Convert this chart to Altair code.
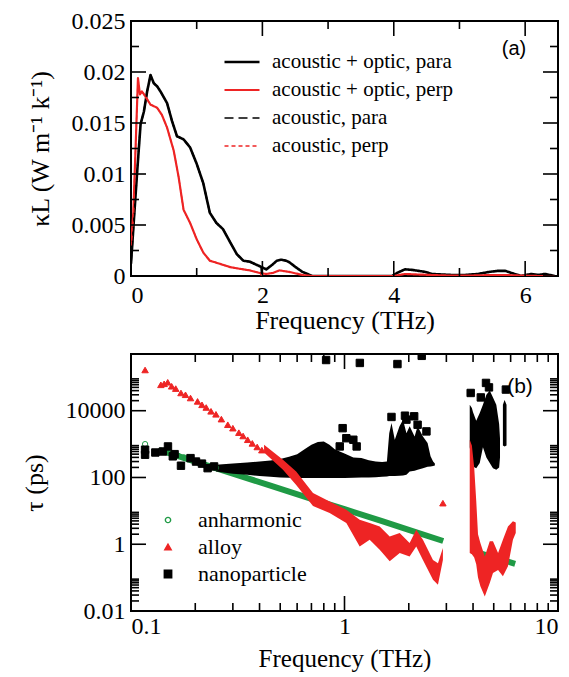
import math
import altair as alt
import pandas as pd

FONT = "Liberation Serif, Times New Roman, serif"
SANS = "Liberation Sans, Arial, sans-serif"
RED = "#ee2424"
GREEN = "#1f9a45"

# ---------------- panel (a) data ----------------
SER_A = ["acoustic + optic, para", "acoustic + optic, perp", "acoustic, para", "acoustic, perp"]

para_f = [0, 0.045, 0.095, 0.146, 0.196, 0.246, 0.297, 0.347, 0.397, 0.448, 0.549, 0.624, 0.70, 0.80,
          0.90, 1.0, 1.10, 1.20, 1.30, 1.40, 1.51, 1.61, 1.71, 1.81, 1.91, 1.98, 2.06, 2.15, 2.22, 2.29,
          2.36, 2.41, 2.5, 2.61, 2.76, 3.0, 3.5, 3.97, 4.05, 4.17, 4.28, 4.38, 4.48, 4.58, 4.88, 5.08,
          5.28, 5.45, 5.58, 5.7, 5.79, 5.94, 6.09, 6.2, 6.3, 6.45]
para_k = [0.0012, 0.0056, 0.0103, 0.0149, 0.0161, 0.0181, 0.0197, 0.0189, 0.0186, 0.0181, 0.01695,
          0.0152, 0.0137, 0.0134, 0.0126, 0.011, 0.0091, 0.0062, 0.0052, 0.0046, 0.0033, 0.00215,
          0.0015, 0.0014, 0.0011, 0.0009, 0.00065, 0.0011, 0.0015, 0.0016, 0.0015, 0.00135, 0.0009,
          0.0004, 0.0, 0.0, 0.0, 0.0, 0.0003, 0.00065, 0.0006, 0.0005, 0.0004, 0.0002, 0.0001, 0.0001,
          0.0002, 0.0004, 0.0005, 0.0005, 0.0003, 0.0, 0.0002, 0.0001, 0.0002, 0.0]

perp_f = [0, 0.035, 0.07, 0.106, 0.136, 0.166, 0.22, 0.297, 0.397, 0.47, 0.549, 0.65, 0.725, 0.80,
          0.90, 1.0, 1.10, 1.20, 1.35, 1.51, 1.66, 1.81, 1.96, 2.06, 2.16, 2.26, 2.41, 2.61, 2.75, 3.0,
          3.5, 4.0, 4.17, 4.35, 4.58, 4.8, 5.2, 5.5, 5.7, 5.9, 6.2, 6.45]
perp_k = [0.003, 0.0062, 0.0126, 0.0194, 0.0178, 0.0181, 0.0176, 0.0168, 0.0165, 0.0158, 0.01455,
          0.0123, 0.0097, 0.0065, 0.0052, 0.0036, 0.0023, 0.0015, 0.0012, 0.00087, 0.0007, 0.00055,
          0.0003, 0.0002, 0.0003, 0.00055, 0.0004, 0.0001, 0.0, 0.0, 0.0, 0.0, 0.0002, 0.00015,
          0.0001, 0.00005, 0.00005, 0.0001, 0.0001, 0.00005, 0.0, 0.0]

ac_para_f = [0, 0.045, 0.095, 0.146, 0.196, 0.246, 0.297, 0.347, 0.397, 0.448, 0.549, 0.624, 0.70,
             0.80, 0.90, 1.0, 1.10, 1.20, 1.30, 1.40, 1.51, 1.61, 1.71, 1.81, 1.91, 1.98, 1.99]
ac_para_k = [0.0012, 0.0056, 0.0103, 0.0149, 0.0161, 0.0181, 0.0197, 0.0189, 0.0186, 0.0181, 0.01695,
             0.0152, 0.0137, 0.0134, 0.0126, 0.011, 0.0091, 0.0062, 0.0052, 0.0046, 0.0033, 0.00215,
             0.0015, 0.0014, 0.0011, 0.0009, 0.0]

ac_perp_f = [0, 0.035, 0.07, 0.106, 0.136, 0.166, 0.22, 0.297, 0.397, 0.47, 0.549, 0.65, 0.725, 0.80,
             0.90, 1.0, 1.10, 1.20, 1.35, 1.51, 1.66, 1.81, 1.96, 1.99]
ac_perp_k = [0.003, 0.0062, 0.0126, 0.0194, 0.0178, 0.0181, 0.0176, 0.0168, 0.0165, 0.0158, 0.01455,
             0.0123, 0.0097, 0.0065, 0.0052, 0.0036, 0.0023, 0.0015, 0.0012, 0.00087, 0.0007, 0.00055,
             0.0003, 0.0]

# ---------------- panel (b) data ----------------
SER_B = ["anharmonic", "alloy", "nanoparticle"]

anh_f1 = [0.141, 0.2, 0.3, 0.45, 0.7, 1.0, 1.5, 2.0, 2.9]
anh_t1 = [620, 300, 131, 57, 23, 11.2, 4.9, 2.7, 1.25]
anh_f2 = [3.95, 6.3]
anh_t2 = [0.63, 0.26]
anh_pts_f = [0.1164, 0.138, 0.147, 0.156, 0.166, 0.177, 0.19, 0.205, 0.22, 0.235, 0.25]
anh_pts_t = [1000, 640, 590, 520, 450, 400, 350, 290, 250, 220, 195]

alloy_pts_f = [0.1164, 0.138, 0.143, 0.1486, 0.155, 0.162, 0.1714, 0.18, 0.19, 0.205, 0.215, 0.225,
               0.237, 0.25, 0.265, 0.284, 0.30, 0.32, 0.335, 0.352, 0.37, 0.39, 0.41, 2.89]
alloy_pts_t = [1.66e5, 5.96e4, 6.4e4, 7.1e4, 5.4e4, 4.6e4, 3.4e4, 3.0e4, 2.4e4, 1.9e4, 1.5e4, 1.25e4,
               9.6e3, 7.8e3, 5.6e3, 3.8e3, 3.0e3, 2.2e3, 1.75e3, 1.35e3, 1.05e3, 820, 660, 17]
alloy_b1_f = [0.42, 0.515, 0.594, 0.712, 0.852, 1.02, 1.178, 1.312, 1.462, 1.628, 1.814, 2.018, 2.168,
              2.33, 2.597, 2.74, 2.89]
alloy_b1_lo = [560, 170, 60, 14, 8.6, 4.3, 0.86, 1.36, 0.68, 0.31, 0.55, 0.43, 0.86, 0.34, 0.086,
               0.061, 0.34]
alloy_b1_hi = [950, 340, 150, 34, 19.2, 10.8, 5.4, 4.3, 3.4, 1.72, 2.16, 1.09, 2.72, 1.36, 0.34, 0.27,
               0.77]
alloy_b2_f = [3.86, 3.95, 4.05, 4.14, 4.22, 4.33, 4.54, 4.79, 4.96, 5.24, 5.52, 5.83, 6.15, 6.34]
alloy_b2_lo = [0.55, 0.5, 0.4, 0.25, 0.1, 0.055, 0.027, 0.069, 0.138, 0.17, 0.11, 0.22, 1.36, 2.16]
alloy_b2_hi = [1350, 900, 200, 20, 2.0, 1.09, 0.43, 1.22, 1.22, 0.55, 1.36, 3.4, 4.9, 4.5]

nano_pts_f = [0.1164, 0.1164, 0.13, 0.141, 0.149, 0.157, 0.16, 0.1714, 0.19, 0.2016, 0.215, 0.2285,
              0.245, 0.82, 1.18, 1.77, 2.3, 0.95, 0.98, 1.02, 1.1, 1.14, 1.66, 1.92, 1.95, 2.12, 2.2,
              2.42, 3.9, 4.35, 4.6, 4.75, 5.7]
nano_pts_t = [680, 480, 560, 600, 850, 430, 500, 225, 380, 300, 260, 190, 214, 3.3e5, 2.7e5, 2.5e5,
              4.4e5, 850, 3000, 1500, 1350, 850, 6500, 7100, 5400, 6800, 3800, 2400, 3.4e4, 2.5e4,
              6.8e4, 5e4, 4.3e4]
nano_c1_f = [0.25, 0.3, 0.35, 0.4, 0.45, 0.5, 0.55, 0.6, 0.65, 0.7, 0.75, 0.8, 0.85, 0.9, 0.95, 1.0,
             1.1, 1.2, 1.3, 1.4, 1.5, 1.58, 1.62, 1.66, 1.72, 1.81, 1.88, 1.95, 2.02, 2.13, 2.2, 2.33,
             2.45, 2.53, 2.6, 2.65]
nano_c1_lo = [150, 130, 120, 110, 105, 100, 98, 96, 96, 96, 96, 96, 96, 96, 96, 97, 98, 100, 100, 102,
              105, 107, 110, 110, 110, 112, 115, 120, 150, 160, 170, 190, 210, 215, 220, 230]
nano_c1_hi = [240, 260, 280, 300, 320, 360, 420, 500, 700, 950, 1150, 1200, 950, 700, 600, 520, 400,
              380, 330, 300, 290, 300, 2100, 4300, 1350, 3400, 5400, 2100, 3400, 1700, 3400, 1700,
              1070, 430, 300, 260]
nano_c2_f = [3.86, 3.95, 4.0, 4.14, 4.3, 4.45, 4.62, 4.79, 4.96, 5.14, 5.3, 5.35]
nano_c2_lo = [800, 300, 215, 190, 270, 800, 400, 270, 190, 170, 200, 400]
nano_c2_hi = [1.5e4, 1.2e4, 9000, 5000, 8600, 1.5e4, 3e4, 4e4, 2.5e4, 1.5e4, 4000, 1500]
nano_c3_f = [5.52, 5.62, 5.74]
nano_c3_lo = [900, 850, 900]
nano_c3_hi = [1.5e4, 2.1e4, 1.5e4]

# tick values
A_X_MAJ = [0, 2, 4, 6]
A_X_MIN = [1, 3, 5]
A_Y_MAJ = [0, 0.005, 0.01, 0.015, 0.02, 0.025]
A_Y_MIN = [0.0025, 0.0075, 0.0125, 0.0175, 0.0225]
B_X_MAJ = [0.1, 1, 10]
B_X_MIN = [0.2, 0.3, 0.4, 0.5, 0.6, 0.7, 0.8, 0.9, 2, 3, 4, 5, 6, 7, 8, 9]
B_Y_MAJ = [0.01, 1, 100, 10000]
B_Y_MIN = [0.02, 0.03, 0.04, 0.05, 0.06, 0.07, 0.08, 0.09, 2, 3, 4, 5, 6, 7, 8, 9,
           200, 300, 400, 500, 600, 700, 800, 900, 2e4, 3e4, 4e4, 5e4, 6e4, 7e4, 8e4, 9e4]

# axis domains
A_XDOM, A_YDOM = [0, 6.5], [0, 0.025]
B_XDOM, B_YDOM = [0.1, 10], [0.01, 5e5]

# ---------------- build tables ----------------
rows = []
for name, fs, ks in [(SER_A[0], para_f, para_k), (SER_A[1], perp_f, perp_k),
                     (SER_A[2], ac_para_f, ac_para_k), (SER_A[3], ac_perp_f, ac_perp_k)]:
    rows += [{"series": name, "f": f, "k": k} for f, k in zip(fs, ks)]
df_a = pd.DataFrame(rows)

df_g = pd.DataFrame(
    [{"seg": "g1", "f": f, "t": t} for f, t in zip(anh_f1, anh_t1)] +
    [{"seg": "g2", "f": f, "t": t} for f, t in zip(anh_f2, anh_t2)])


def band(seg, fs, lo, hi):
    return [{"seg": seg, "f": f, "lo": a, "hi": b} for f, a, b in zip(fs, lo, hi)]


df_red = pd.DataFrame(band("r1", alloy_b1_f, alloy_b1_lo, alloy_b1_hi) +
                      band("r2", alloy_b2_f, alloy_b2_lo, alloy_b2_hi))
df_blk = pd.DataFrame(band("k1", nano_c1_f, nano_c1_lo, nano_c1_hi) +
                      band("k2", nano_c2_f, nano_c2_lo, nano_c2_hi) +
                      band("k3", nano_c3_f, nano_c3_lo, nano_c3_hi))
df_pts = pd.DataFrame(
    [{"series": "anharmonic", "f": f, "t": t} for f, t in zip(anh_pts_f, anh_pts_t)] +
    [{"series": "nanoparticle", "f": f, "t": t} for f, t in zip(nano_pts_f, nano_pts_t)] +
    [{"series": "alloy", "f": f, "t": t} for f, t in zip(alloy_pts_f, alloy_pts_t)])

W = 427
HA, HB = 255, 257
MAJ, MIN = 15, 8


def lab_axis(orient, values, title, pad, tpad, tsize=26):
    return alt.Axis(orient=orient, values=values, ticks=False, domain=False, grid=False,
                    labelFont=FONT, titleFont=FONT, labelFontSize=24, titleFontSize=tsize,
                    titleFontWeight="normal", labelColor="black", titleColor="black",
                    labelPadding=pad, titlePadding=tpad, title=title, format="~g")


def inset(dom, length, span, log, from_end):
    """Value lying `length` pixels inside the domain edge (for tick lengths)."""
    lo, hi = dom
    if log:
        k = 10 ** (length * math.log10(hi / lo) / span)
        return (hi, hi / k) if from_end else (lo, lo * k)
    d = (hi - lo) * length / span
    return (hi, hi - d) if from_end else (lo, lo + d)


def ticks(values, side, length, xs, ys, xdom, ydom, xlog, ylog, h):
    """Inward frame tick marks, placed through the chart's own scales."""
    df = pd.DataFrame({"v": values})
    base = alt.Chart(df).mark_rule(color="black", strokeWidth=1.6)
    if side in ("bottom", "top"):
        a, b = inset(ydom, length, h, ylog, side == "top")
        return base.encode(x=alt.X("v:Q", scale=xs), y=alt.datum(a), y2=alt.datum(b))
    a, b = inset(xdom, length, W, xlog, side == "right")
    return base.encode(y=alt.Y("v:Q", scale=ys), x=alt.datum(a), x2=alt.datum(b))


def frame_ticks(xs, ys, xdom, ydom, xlog, ylog, xmaj, xmin, ymaj, ymin, h):
    out = []
    for side in ("bottom", "top"):
        out += [ticks(xmaj, side, MAJ, xs, ys, xdom, ydom, xlog, ylog, h),
                ticks(xmin, side, MIN, xs, ys, xdom, ydom, xlog, ylog, h)]
    for side in ("left", "right"):
        out += [ticks(ymaj, side, MAJ, xs, ys, xdom, ydom, xlog, ylog, h),
                ticks(ymin, side, MIN, xs, ys, xdom, ydom, xlog, ylog, h)]
    return out


# ---------------- panel (a) ----------------
xs_a = alt.Scale(domain=A_XDOM, nice=False, zero=False)
ys_a = alt.Scale(domain=A_YDOM, nice=False)
leg_a = alt.Legend(title=None, orient="none", legendX=92, legendY=28, symbolType="stroke",
                   symbolSize=1225, clipHeight=26, rowPadding=2, labelFont=FONT, labelFontSize=21,
                   labelOffset=11, labelColor="black", labelLimit=400)

lines_a = alt.Chart(df_a).mark_line(clip=True, strokeJoin="round").encode(
    x=alt.X("f:Q", scale=xs_a, axis=lab_axis("bottom", A_X_MAJ, "Frequency (THz)", 7, 0)),
    y=alt.Y("k:Q", scale=ys_a, axis=lab_axis("left", A_Y_MAJ, "κL (W m⁻¹ k⁻¹)", 6, 18)),
    color=alt.Color("series:N", scale=alt.Scale(domain=SER_A, range=["black", RED, "black", RED]),
                    legend=leg_a),
    strokeDash=alt.StrokeDash("series:N", scale=alt.Scale(domain=SER_A,
                              range=[[1, 0], [1, 0], [9, 5], [4, 3]]), legend=leg_a),
    strokeWidth=alt.StrokeWidth("series:N", scale=alt.Scale(domain=SER_A, range=[2.6, 1.3, 2.6, 1.3]),
                                legend=leg_a),
)

lab_a = alt.Chart(pd.DataFrame({"txt": ["(a)"]})).mark_text(
    font=SANS, fontSize=20, color="black", align="center", baseline="middle").encode(
    x=alt.value(383), y=alt.value(28), text="txt:N")

panel_a = alt.layer(
    lines_a,
    *frame_ticks(xs_a, ys_a, A_XDOM, A_YDOM, False, False, A_X_MAJ, A_X_MIN, A_Y_MAJ, A_Y_MIN, HA),
    lab_a
).properties(width=W, height=HA)

# ---------------- panel (b) ----------------
xs_b = alt.Scale(type="log", domain=B_XDOM, nice=False)
ys_b = alt.Scale(type="log", domain=B_YDOM, nice=False)

green_line = alt.Chart(df_g).mark_line(color=GREEN, strokeWidth=6, clip=True).encode(
    x=alt.X("f:Q", scale=xs_b, axis=lab_axis("bottom", B_X_MAJ, "Frequency (THz)", 3, 8, 25)),
    y=alt.Y("t:Q", scale=ys_b, axis=lab_axis("left", B_Y_MAJ, "τ (ps)", 6, 18)),
    detail="seg:N")

blk_area = alt.Chart(df_blk).mark_area(color="black", clip=True).encode(
    x=alt.X("f:Q", scale=xs_b),
    y=alt.Y("lo:Q", scale=ys_b), y2="hi:Q", detail="seg:N")
red_area = alt.Chart(df_red).mark_area(color=RED, clip=True).encode(
    x=alt.X("f:Q", scale=xs_b),
    y=alt.Y("lo:Q", scale=ys_b), y2="hi:Q", detail="seg:N")

leg_b = alt.Legend(title=None, orient="none", legendX=26, legendY=155, labelFont=FONT,
                   labelFontSize=22, labelOffset=19, rowPadding=5, labelColor="black",
                   symbolStrokeWidth=1.4, labelLimit=400)
pts = alt.Chart(df_pts).mark_point(strokeWidth=1.0, opacity=1, clip=True).encode(
    x=alt.X("f:Q", scale=xs_b),
    y=alt.Y("t:Q", scale=ys_b),
    shape=alt.Shape("series:N", scale=alt.Scale(domain=SER_B,
                    range=["circle", "triangle-up", "square"]), legend=leg_b),
    fill=alt.Fill("series:N", scale=alt.Scale(domain=SER_B,
                  range=["transparent", RED, "black"]), legend=leg_b),
    stroke=alt.Stroke("series:N", scale=alt.Scale(domain=SER_B,
                      range=[GREEN, RED, "black"]), legend=leg_b),
    size=alt.Size("series:N", scale=alt.Scale(domain=SER_B, range=[28, 55, 6]), legend=leg_b),
)

lab_b = alt.Chart(pd.DataFrame({"txt": ["(b)"]})).mark_text(
    font=SANS, fontSize=21, color="black", align="center", baseline="middle").encode(
    x=alt.value(389), y=alt.value(33), text="txt:N")

panel_b = alt.layer(
    green_line, blk_area, red_area, pts,
    *frame_ticks(xs_b, ys_b, B_XDOM, B_YDOM, True, True, B_X_MAJ, B_X_MIN, B_Y_MAJ, B_Y_MIN, HB),
    lab_b
).properties(width=W, height=HB)

chart = alt.vconcat(panel_a, panel_b, spacing=18).resolve_scale(
    color="independent", strokeDash="independent", strokeWidth="independent",
    shape="independent", fill="independent", stroke="independent", size="independent"
).resolve_legend(
    color="independent", strokeDash="independent", strokeWidth="independent",
    shape="independent", fill="independent", stroke="independent", size="independent"
).properties(
    padding={"left": 12, "top": 0, "right": 0, "bottom": 0}, background="white"
).configure_view(stroke="black", strokeWidth=2)

chart.save("out.html", embed_options={"renderer": "svg", "actions": False})
